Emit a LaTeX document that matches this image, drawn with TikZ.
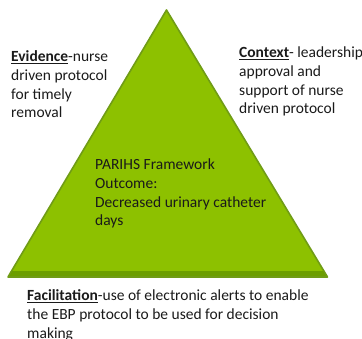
\documentclass[tikz,border=0pt]{standalone}
\usepackage{fontspec}
\setmainfont{Carlito}
\usepackage{tikz}

\definecolor{leaf}{RGB}{141,193,0}
\definecolor{leafedge}{RGB}{112,156,22}
\definecolor{leafbase}{RGB}{108,158,0}
\definecolor{ink}{RGB}{26,26,26}

\begin{document}
\begin{tikzpicture}[x=1pt,y=-1pt,
  label/.style={anchor=base west,align=left,inner sep=0pt,text=ink,
    font=\fontsize{15.5}{18.6}\selectfont}]
\useasboundingbox (0,0) rectangle (362,339);

% the triangle, with a darker strip along its base
\coordinate (apex) at (166.5,10);
\coordinate (left) at (8,277);
\coordinate (right) at (327.5,277);
\fill[leaf] (apex) -- (left) -- (right) -- cycle;
\begin{scope}
  \clip (apex) -- (left) -- (right) -- cycle;
  \fill[leafbase] (0,271) rectangle (362,280);
\end{scope}
\draw[leafedge,line width=1.6pt,line join=round] (apex) -- (left) -- (right) -- cycle;

% base anchor sits on the last line of each text
\node[label] (evidence) at (11,117.8)
  {\underline{\textbf{Evidence}}-nurse\\driven protocol\\for timely\\removal};
\node[label] (context) at (239,113.8)
  {\underline{\textbf{Context}}- leadership\\approval and\\support of nurse\\driven protocol};
\node[label] (outcome) at (95,225.8)
  {PARIHS Framework\\Outcome:\\Decreased urinary catheter\\days};
\node[label] (facilitation) at (27,338.2)
  {\underline{\textbf{Facilitation}}-use of electronic alerts to enable\\the EBP protocol to be used for decision\\making};

\end{tikzpicture}
\end{document}
